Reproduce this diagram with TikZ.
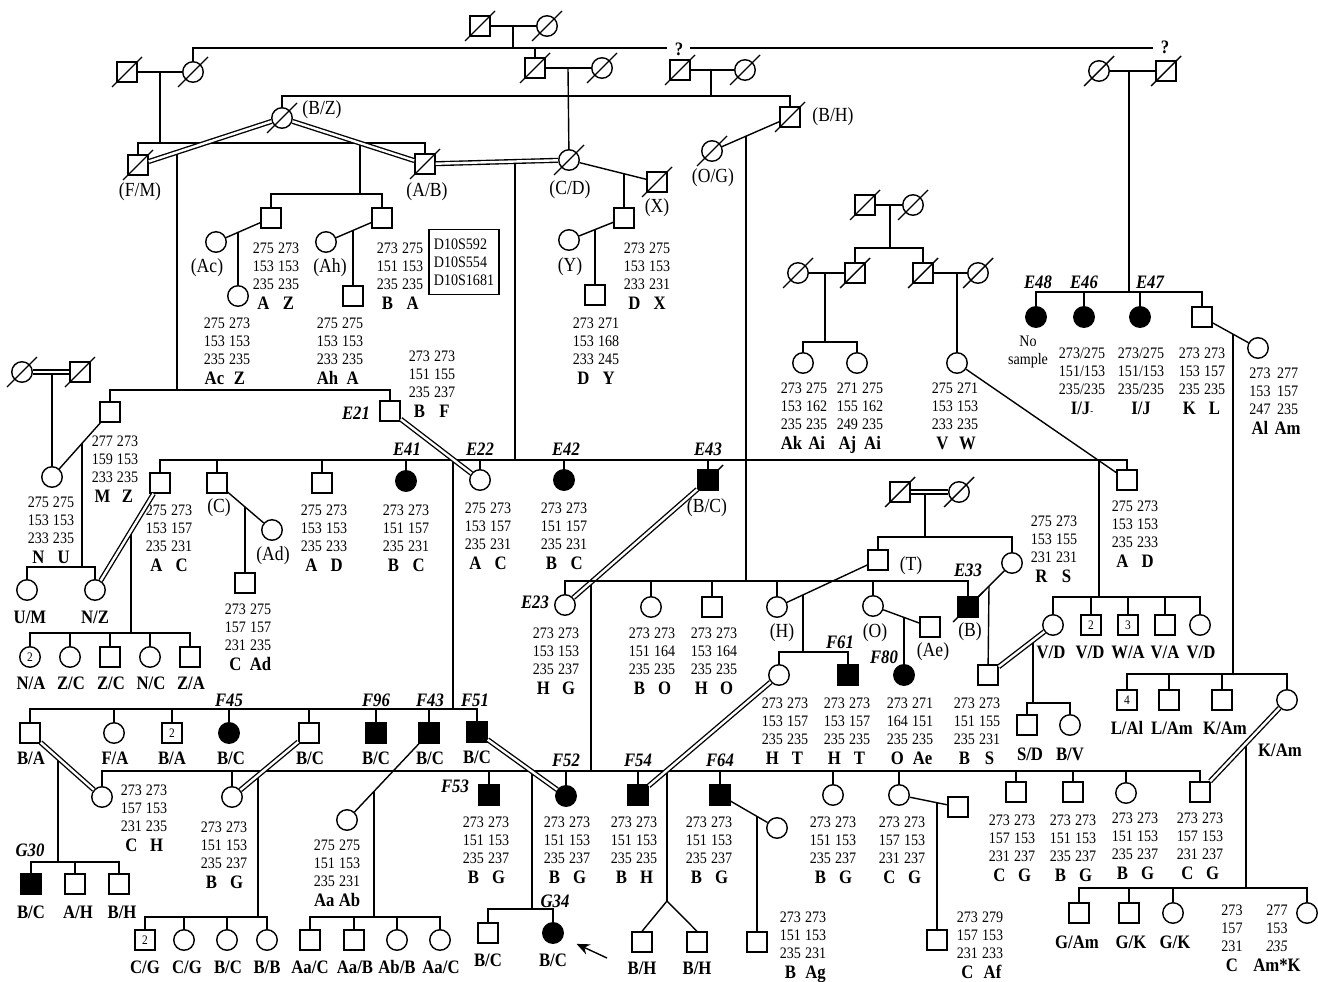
\documentclass[tikz,border=0pt]{standalone}
\usepackage{fontspec}
\setmainfont{Liberation Serif}[FakeStretch=0.88]
\usetikzlibrary{arrows.meta}

\newcommand{\gtsize}{\fontsize{16}{18}\selectfont}
\newcommand{\lbsize}{\fontsize{19}{20}\selectfont\bfseries}
\newcommand{\geno}[8]{\begin{tabular}[t]{@{}c@{\hspace{4pt}}c@{}}#1&#2\\#3&#4\\#5&#6\\[2pt]\lbsize #7&\lbsize #8\end{tabular}}
\newcommand{\genos}[4]{\begin{tabular}[t]{@{}c@{}}#1\\#2\\#3\\[2pt]\lbsize #4\end{tabular}}
\newcommand{\dead}[1]{\draw ([shift={(-15,15)}]#1.center) -- ([shift={(15,-15)}]#1.center);}

\begin{document}
\begin{tikzpicture}[x=1pt, y=-1pt, line width=1.4pt,
    sym/.style={draw, inner sep=0pt, font=\fontsize{13}{13}\selectfont},
    male/.style={sym, rectangle, minimum size=20pt},
    female/.style={sym, circle, minimum size=20.5pt},
    aff/.style={fill=black},
    dbl/.style={double, double distance=2.4pt, line width=1.35pt},
    gt/.style={anchor=base, yshift=-5pt, inner sep=0pt, font=\gtsize},
    tag/.style={inner sep=0pt, font=\lbsize},
    pn/.style={inner sep=0pt, font=\fontsize{20}{22}\selectfont},
    gen/.style={inner sep=0pt, font=\fontsize{19}{20}\selectfont\bfseries\itshape},
    qs/.style={inner sep=0pt, font=\fontsize{19}{20}\selectfont\bfseries}]
\useasboundingbox (0,0) rectangle (1318,982);

% founders
\node[male] (gpm) at (480,26) {}; \dead{gpm}
\node[female] (gpf) at (547,26) {}; \dead{gpf}
\coordinate (mGP) at (513,26);
\coordinate (sGP) at (513,48);
\draw (gpm) -- (gpf);
\draw (mGP) -- (sGP);
\coordinate (qa) at (667,48);
\coordinate (qb) at (690,48);
\coordinate (qc) at (1153,48);
\draw (sGP) -- (qa);
\draw (qb) -- (qc);
\node[qs] (q1) at (679,49) {?};
\node[qs] (q2) at (1165,47) {?};

\node[male] (lm) at (127,72) {}; \dead{lm}
\node[female] (lw) at (193,72) {}; \dead{lw}
\coordinate (mL) at (160,72);
\coordinate (sL) at (160,143);
\draw (lm) -- (lw);
\draw (mL) -- (sL);
\draw (lw) |- (sGP);

\node[male] (mm1) at (535,68) {}; \dead{mm1}
\node[female] (mw1) at (602,68) {}; \dead{mw1}
\coordinate (mM1) at (568,68);
\draw (mm1) -- (mw1);
\draw (mm1) |- (sGP);

\node[male] (mm2) at (680,70) {}; \dead{mm2}
\node[female] (mw2) at (745,70) {}; \dead{mw2}
\coordinate (mM2) at (711,70);
\coordinate (sM2) at (711,96);
\draw (mm2) -- (mw2);
\draw (mM2) -- (sM2);

\node[female] (rw) at (1099,71) {}; \dead{rw}
\node[male] (rm) at (1166,71) {}; \dead{rm}
\coordinate (mR) at (1129,71);
\coordinate (sR) at (1129,292);
\draw (rw) -- (rm);
\draw (mR) -- (sR);

% second generation
\node[male] (fm) at (138,165) {}; \dead{fm}
\node[female] (bz) at (282,118) {}; \dead{bz}
\node[male] (ab) at (425,164) {}; \dead{ab}
\node[female] (cd) at (569,160) {}; \dead{cd}
\node[male] (xx) at (657,182) {}; \dead{xx}
\node[female] (og) at (712,151) {}; \dead{og}
\node[male] (bh) at (790,117) {}; \dead{bh}
\node[pn] (fmL) at (140,192) {(F/M)};
\node[pn] (bzL) at (322,110) {(B/Z)};
\node[pn] (abL) at (427,192) {(A/B)};
\node[pn] (cdL) at (570,190) {(C/D)};
\node[pn] (xxL) at (657,208) {(X)};
\node[pn] (ogL) at (713,178) {(O/G)};
\node[pn] (bhL) at (833,117) {(B/H)};
\draw (fm) |- (sL);
\draw (ab) |- (sL);
\draw (bz) |- (sM2);
\draw (bh) |- (sM2);
\draw (mM1) -- (cd);
\coordinate (mFB) at (177,152);
\coordinate (s390) at (177,390);
\coordinate (mBA) at (360,143);
\coordinate (s194) at (360,194);
\coordinate (mAC) at (515,163);
\coordinate (s460) at (515,460);
\coordinate (mCX) at (624,174);
\coordinate (mOB) at (746,136);
\coordinate (s581) at (746,581);
\draw (mFB) -- (s390);
\draw (mBA) -- (s194);
\draw (mAC) -- (s460);
\draw (mOB) -- (s581);
\draw[dbl] (fm) -- (bz);
\draw[dbl] (bz) -- (ab);
\draw[dbl] (ab) -- (cd);
\draw (cd) -- (xx);
\draw (og) -- (bh);

\node[male] (s1) at (271,218) {};
\node[male] (s2) at (382,218) {};
\draw (s1) |- (s194);
\draw (s2) |- (s194);
\node[female] (acw) at (216,242) {};
\node[pn] (acL) at (207,268) {(Ac)};
\coordinate (mAc) at (238,232);
\node[female] (c1) at (238,296) {};
\draw (acw) -- (s1);
\draw (mAc) -- (c1);
\node[gt] (g1) at (276,248) {\geno{275}{273}{153}{153}{235}{235}{A}{Z}};
\node[gt] (g2) at (227,323) {\geno{275}{273}{153}{153}{235}{235}{Ac}{Z}};
\node[female] (ahw) at (326,242) {};
\node[pn] (ahL) at (330,268) {(Ah)};
\coordinate (mAh) at (353,230);
\node[male] (c2) at (353,296) {};
\draw (ahw) -- (s2);
\draw (mAh) -- (c2);
\node[gt] (g3) at (400,248) {\geno{273}{275}{151}{153}{235}{235}{B}{A}};
\node[gt] (g4) at (340,323) {\geno{275}{275}{153}{153}{233}{235}{Ah}{A}};
\node[draw, line width=1.1pt, inner sep=0pt, minimum width=70pt, minimum height=65pt, align=left, font=\gtsize] (mk) at (464,262) {D10S592\\D10S554\\D10S1681};

\node[male] (y1) at (624,218) {};
\node[female] (yw) at (569,240) {};
\node[pn] (ywL) at (570,267) {(Y)};
\coordinate (mY) at (595,230);
\node[male] (y2) at (595,295) {};
\draw (mCX) -- (y1);
\draw (yw) -- (y1);
\draw (mY) -- (y2);
\node[gt] (g5) at (647,248) {\geno{273}{275}{153}{153}{233}{231}{D}{X}};
\node[gt] (g6) at (596,323) {\geno{273}{271}{153}{168}{233}{245}{D}{Y}};

\node[male] (um) at (865,205) {}; \dead{um}
\node[female] (uw) at (913,205) {}; \dead{uw}
\coordinate (mU) at (890,205);
\coordinate (s248) at (890,248);
\draw (um) -- (uw);
\draw (mU) -- (s248);
\node[male] (ua) at (855,273) {}; \dead{ua}
\node[male] (ub) at (923,273) {}; \dead{ub}
\draw (ua) |- (s248);
\draw (ub) |- (s248);
\node[female] (uaw) at (798,273) {}; \dead{uaw}
\coordinate (mUa) at (825,273);
\coordinate (s342) at (825,342);
\draw (uaw) -- (ua);
\draw (mUa) -- (s342);
\node[female] (ak) at (803,363) {};
\node[female] (aj) at (857,363) {};
\draw (ak) |- (s342);
\draw (aj) |- (s342);
\node[female] (ubw) at (978,273) {}; \dead{ubw}
\coordinate (mUb) at (957,273);
\node[female] (vw) at (957,363) {};
\draw (ub) -- (ubw);
\draw (mUb) -- (vw);
\node[gt] (g7) at (804,388) {\geno{273}{275}{153}{162}{235}{235}{Ak}{Ai}};
\node[gt] (g8) at (860,388) {\geno{271}{275}{155}{162}{249}{235}{Aj}{Ai}};
\node[gt] (g9) at (955,388) {\geno{275}{271}{153}{153}{233}{235}{V}{W}};

\node[female,aff] (e48) at (1036,317) {};
\node[female,aff] (e46) at (1084,317) {};
\node[female,aff] (e47) at (1140,317) {};
\node[male] (kl) at (1202,317) {};
\foreach \n in {e48,e46,e47,kl} \draw (\n) |- (sR);
\node[gen] (e48L) at (1038,282) {E48};
\node[gen] (e46L) at (1084,282) {E46};
\node[gen] (e47L) at (1150,282) {E47};
\node[female] (alw) at (1258,348) {};
\coordinate (mKL) at (1233,334);
\coordinate (s674) at (1233,674);
\draw (kl) -- (alw);
\draw (mKL) -- (s674);
\node[inner sep=0pt, align=center, font=\gtsize] (nos) at (1028,352) {No\\sample};
\node[gt] (g10) at (1082,353) {\genos{273/275}{151/153}{235/235}{I/J{\mdseries\fontsize{10}{10}\selectfont-}}};
\node[gt] (g11) at (1141,353) {\genos{273/275}{151/153}{235/235}{I/J}};
\node[gt] (g12) at (1202,353) {\geno{273}{273}{153}{157}{235}{235}{K}{L}};
\node[gt] (g13) at (1275,373) {\geno{273}{277}{153}{157}{247}{235}{Al}{Am}};

% third generation
\node[male] (mz) at (110,412) {};
\node[male] (e21) at (390,411) {};
\draw (mz) |- (s390);
\draw (e21) |- (s390);
\node[gen] (e21L) at (356,413) {E21};
\node[gt] (g14) at (115,441) {\geno{277}{273}{159}{153}{233}{235}{M}{Z}};
\node[gt] (g15) at (432,356) {\geno{273}{273}{151}{155}{235}{237}{B}{F}};

\node[female] (lcw) at (22,372) {}; \dead{lcw}
\node[male] (lcm) at (80,372) {}; \dead{lcm}
\coordinate (mLC) at (52,372);
\node[female] (nu) at (52,477) {};
\draw (mLC) -- (nu);
\draw[dbl] (lcw) -- (lcm);
\node[gt] (g16) at (51,502) {\geno{275}{275}{153}{153}{233}{235}{N}{U}};
\coordinate (mNU) at (82,443);
\coordinate (s567) at (82,567);
\draw (nu) -- (mz);
\draw (mNU) -- (s567);
\node[female] (umc) at (27,590) {};
\node[female] (nz) at (95,590) {};
\draw (umc) |- (s567);
\draw (nz) |- (s567);
\node[tag] (umL) at (30,617) {U/M};
\node[tag] (nzL) at (95,617) {N/Z};

\node[male] (acm) at (160,483) {};
\node[male] (cm) at (217,483) {};
\node[male] (adm) at (322,483) {};
\node[female,aff] (e41) at (406,481) {};
\node[female] (e22) at (480,480) {};
\node[female,aff] (e42) at (564,480) {};
\node[male,aff] (e43) at (708,480) {}; \dead{e43}
\node[male] (adr) at (1127,480) {};
\foreach \n in {acm,cm,adm,e41,e22,e42,e43,adr} \draw (\n) |- (s460);
\node[gen] (e41L) at (407,449) {E41};
\node[gen] (e22L) at (480,449) {E22};
\node[gen] (e42L) at (566,449) {E42};
\node[gen] (e43L) at (708,449) {E43};
\node[pn] (cmL) at (219,508) {(C)};
\node[pn] (e43P) at (707,508) {(B/C)};
\node[gt] (g17) at (169,510) {\geno{275}{273}{153}{157}{235}{231}{A}{C}};
\node[gt] (g18) at (324,510) {\geno{275}{273}{153}{153}{235}{233}{A}{D}};
\node[gt] (g19) at (406,510) {\geno{273}{273}{151}{157}{235}{231}{B}{C}};
\node[gt] (g20) at (488,508) {\geno{275}{273}{153}{157}{235}{231}{A}{C}};
\node[gt] (g21) at (564,508) {\geno{273}{273}{151}{157}{235}{231}{B}{C}};
\node[gt] (g22) at (1135,506) {\geno{275}{273}{153}{153}{235}{233}{A}{D}};

\node[female] (adw) at (272,530) {};
\node[pn] (adL) at (273,556) {(Ad)};
\coordinate (mCA) at (245,507);
\node[male] (cad) at (245,583) {};
\draw (cm) -- (adw);
\draw (mCA) -- (cad);
\node[gt] (g23) at (248,609) {\geno{273}{275}{157}{157}{231}{235}{C}{Ad}};

\coordinate (mNA) at (131,531);
\coordinate (s633) at (131,633);
\draw (mNA) -- (s633);
\draw[dbl] (nz) -- (acm);
\node[female] (na) at (30,657) {2};
\node[female] (zc1) at (70,657) {};
\node[male] (zc2) at (110,657) {};
\node[female] (nc) at (150,657) {};
\node[male] (za) at (190,657) {};
\foreach \n in {na,zc1,zc2,nc,za} \draw (\n) |- (s633);
\node[tag] (naL) at (31,683) {N/A};
\node[tag] (zc1L) at (71,683) {Z/C};
\node[tag] (zc2L) at (111,683) {Z/C};
\node[tag] (ncL) at (151,683) {N/C};
\node[tag] (zaL) at (191,683) {Z/A};

\coordinate (mEE) at (453,459);
\coordinate (s709) at (453,709);
\draw (mEE) -- (s709);
\draw[dbl] (e21) -- (e22);

\node[female] (e23) at (565,605) {};
\coordinate (mE2) at (591,582);
\coordinate (s771) at (591,771);
\draw (mE2) -- (s771);
\draw[dbl] (e23) -- (e43);
\node[gen] (e23L) at (535,602) {E23};

% fourth generation, E23 line
\node[female] (bo) at (651,607) {};
\node[male] (ho) at (712,607) {};
\node[female] (hc) at (777,607) {};
\node[female] (oc) at (873,606) {};
\node[male,aff] (e33) at (968,607) {}; \dead{e33}
\foreach \n in {e23,bo,ho,hc,oc,e33} \draw (\n) |- (s581);
\node[pn] (hcL) at (782,633) {(H)};
\node[pn] (ocL) at (875,633) {(O)};
\node[pn] (e33P) at (970,632) {(B)};
\node[gen] (e33L) at (968,570) {E33};
\node[gt] (g24) at (556,633) {\geno{273}{273}{153}{153}{235}{237}{H}{G}};
\node[gt] (g25) at (652,633) {\geno{273}{273}{151}{164}{235}{235}{B}{O}};
\node[gt] (g26) at (714,633) {\geno{273}{273}{153}{164}{235}{235}{H}{O}};

\node[male] (tm) at (900,492) {}; \dead{tm}
\node[female] (tw) at (959,492) {}; \dead{tw}
\coordinate (mT) at (925,492);
\coordinate (s537) at (925,537);
\draw (mT) -- (s537);
\draw[dbl] (tm) -- (tw);
\node[male] (tsq) at (878,560) {};
\node[female] (rsw) at (1012,563) {};
\draw (tsq) |- (s537);
\draw (rsw) |- (s537);
\node[pn] (tL) at (911,566) {(T)};
\node[gt] (g27) at (1054,521) {\geno{275}{273}{153}{155}{231}{231}{R}{S}};

\coordinate (mTH) at (803,595);
\coordinate (s652) at (803,652);
\draw (tsq) -- (hc);
\draw (mTH) -- (s652);
\node[female] (htc) at (779,675) {};
\node[male,aff] (f61) at (848,675) {};
\draw (htc) |- (s652);
\draw (f61) |- (s652);
\node[gen] (f61L) at (840,642) {F61};
\node[gt] (g28) at (785,703) {\geno{273}{273}{153}{157}{235}{235}{H}{T}};
\node[gt] (g29) at (847,703) {\geno{273}{273}{153}{157}{235}{235}{H}{T}};

\node[male] (ae) at (930,627) {};
\node[pn] (aeL) at (933,652) {(Ae)};
\coordinate (mOA) at (904,617);
\node[female,aff] (f80) at (904,675) {};
\draw (oc) -- (ae);
\draw (mOA) -- (f80);
\node[gen] (f80L) at (884,657) {F80};
\node[gt] (g30) at (910,703) {\geno{273}{271}{164}{151}{235}{235}{O}{Ae}};

\coordinate (mER) at (989,586);
\node[male] (bsq) at (988,675) {};
\draw (e33) -- (rsw);
\draw (mER) -- (bsq);
\node[gt] (g31) at (977,703) {\geno{273}{273}{151}{155}{235}{231}{B}{S}};

\coordinate (mVA) at (1099,461);
\coordinate (s597) at (1099,597);
\draw (vw) -- (adr);
\draw (mVA) -- (s597);
\node[female] (vd) at (1053,625) {};
\node[male] (vd2) at (1091,625) {2};
\node[male] (wa) at (1128,625) {3};
\node[male] (va) at (1165,625) {};
\node[female] (vd3) at (1200,625) {};
\foreach \n in {vd,vd2,wa,va,vd3} \draw (\n) |- (s597);
\node[tag] (vdL) at (1051,652) {V/D};
\node[tag] (vd2L) at (1090,652) {V/D};
\node[tag] (waL) at (1128,652) {W/A};
\node[tag] (vaL) at (1165,652) {V/A};
\node[tag] (vd3L) at (1201,652) {V/D};

\coordinate (mBV) at (1033,640);
\coordinate (s703) at (1033,703);
\draw (mBV) -- (s703);
\draw[dbl] (bsq) -- (vd);
\node[male] (sd) at (1027,725) {};
\node[female] (bv) at (1070,725) {};
\draw (sd) |- (s703);
\draw (bv) |- (s703);
\node[tag] (sdL) at (1030,754) {S/D};
\node[tag] (bvL) at (1070,754) {B/V};

\node[male] (la) at (1127,700) {4};
\node[male] (lam) at (1169,700) {};
\node[male] (kam1) at (1222,700) {};
\node[female] (kam) at (1287,700) {};
\foreach \n in {la,lam,kam1,kam} \draw (\n) |- (s674);
\node[tag] (laL) at (1127,728) {L/Al};
\node[tag] (lamL) at (1172,728) {L/Am};
\node[tag] (kam1L) at (1225,728) {K/Am};
\node[tag] (kamL) at (1280,750) {K/Am};

% F45 line
\node[male] (ba1) at (30,733) {};
\node[female] (fa) at (114,733) {};
\node[male] (ba2) at (172,733) {2};
\node[female,aff] (f45) at (229,733) {};
\node[male] (bc1) at (309,733) {};
\node[male,aff] (f96) at (376,733) {};
\node[male,aff] (f43) at (429,733) {};
\node[male,aff] (f51) at (477,732) {};
\foreach \n in {ba1,fa,ba2,f45,bc1,f96,f43,f51} \draw (\n) |- (s709);
\node[tag] (ba1L) at (31,758) {B/A};
\node[tag] (faL) at (115,758) {F/A};
\node[tag] (ba2L) at (172,758) {B/A};
\node[tag] (f45T) at (231,758) {B/C};
\node[tag] (bc1L) at (310,758) {B/C};
\node[tag] (f96T) at (376,758) {B/C};
\node[tag] (f43T) at (430,758) {B/C};
\node[tag] (f51T) at (477,757) {B/C};
\node[gen] (f45L) at (229,700) {F45};
\node[gen] (f96L) at (376,700) {F96};
\node[gen] (f43L) at (430,700) {F43};
\node[gen] (f51L) at (475,700) {F51};

% E23 x E43 line
\node[female] (chw) at (102,797) {};
\node[female] (bgw) at (232,797) {};
\node[male,aff] (f53) at (489,795) {};
\node[female,aff] (f52) at (566,796) {};
\node[male,aff] (f54) at (638,795) {};
\node[male,aff] (f64) at (720,795) {};
\node[female] (bg1) at (833,795) {};
\node[female] (cg1) at (899,795) {};
\node[male] (cg2) at (1016,792) {};
\node[male] (bg2) at (1073,792) {};
\node[female] (bg3) at (1126,793) {};
\node[male] (cg3) at (1200,792) {};
\foreach \n in {chw,bgw,f53,f52,f54,f64,bg1,cg1,cg2,bg2,bg3,cg3} \draw (\n) |- (s771);
\node[gen] (f53L) at (455,786) {F53};
\node[gen] (f52L) at (566,760) {F52};
\node[gen] (f54L) at (638,760) {F54};
\node[gen] (f64L) at (720,760) {F64};
\node[gt] (g32) at (144,790) {\geno{273}{273}{157}{153}{231}{235}{C}{H}};
\node[gt] (g33) at (224,827) {\geno{273}{273}{151}{153}{235}{237}{B}{G}};
\node[gt] (g34) at (486,822) {\geno{273}{273}{151}{153}{235}{237}{B}{G}};
\node[gt] (g35) at (567,822) {\geno{273}{273}{151}{153}{235}{237}{B}{G}};
\node[gt] (g36) at (634,822) {\geno{273}{273}{151}{153}{235}{235}{B}{H}};
\node[gt] (g37) at (709,822) {\geno{273}{273}{151}{153}{235}{237}{B}{G}};
\node[gt] (g38) at (833,822) {\geno{273}{273}{151}{153}{235}{237}{B}{G}};
\node[gt] (g39) at (902,822) {\geno{273}{273}{157}{153}{231}{237}{C}{G}};
\node[gt] (g40) at (1012,820) {\geno{273}{273}{157}{153}{231}{237}{C}{G}};
\node[gt] (g41) at (1073,820) {\geno{273}{273}{151}{153}{235}{237}{B}{G}};
\node[gt] (g42) at (1135,818) {\geno{273}{273}{151}{153}{235}{237}{B}{G}};
\node[gt] (g43) at (1200,818) {\geno{273}{273}{157}{153}{231}{237}{C}{G}};

\coordinate (mBC) at (58,758);
\coordinate (s862) at (58,862);
\draw (mBC) -- (s862);
\draw[dbl] (ba1) -- (chw);
\node[male,aff] (g30p) at (31,884) {};
\node[male] (ah) at (75,884) {};
\node[male] (bhm) at (119,884) {};
\foreach \n in {g30p,ah,bhm} \draw (\n) |- (s862);
\node[gen] (g30L) at (30,850) {G30};
\node[tag] (g30T) at (31,912) {B/C};
\node[tag] (ahL) at (78,912) {A/H};
\node[tag] (bhmL) at (122,912) {B/H};

\coordinate (mBG) at (258,775);
\coordinate (s917a) at (258,917);
\draw (mBG) -- (s917a);
\draw[dbl] (bc1) -- (bgw);
\node[male] (cgA) at (145,940) {2};
\node[female] (cgB) at (184,940) {};
\node[female] (bcA) at (227,940) {};
\node[female] (bbA) at (267,940) {};
\foreach \n in {cgA,cgB,bcA,bbA} \draw (\n) |- (s917a);
\node[tag] (cgAL) at (145,967) {C/G};
\node[tag] (cgBL) at (187,967) {C/G};
\node[tag] (bcAL) at (228,967) {B/C};
\node[tag] (bbAL) at (267,967) {B/B};

\node[female] (aaw) at (347,820) {};
\node[gt] (g44) at (337,845) {\geno{275}{275}{151}{153}{235}{231}{Aa}{Ab}};
\coordinate (mFA) at (374,791);
\coordinate (s917b) at (374,917);
\draw (f43) -- (aaw);
\draw (mFA) -- (s917b);
\node[male] (aac1) at (310,940) {};
\node[male] (aab) at (354,940) {};
\node[female] (abb) at (397,940) {};
\node[female] (aac2) at (440,940) {};
\foreach \n in {aac1,aab,abb,aac2} \draw (\n) |- (s917b);
\node[tag] (aac1L) at (310,967) {Aa/C};
\node[tag] (aabL) at (355,967) {Aa/B};
\node[tag] (abbL) at (397,967) {Ab/B};
\node[tag] (aac2L) at (441,967) {Aa/C};

\coordinate (mFF) at (532,772);
\coordinate (s909) at (532,909);
\draw (mFF) -- (s909);
\draw[dbl] (f51) -- (f52);
\node[male] (bcB) at (488,933) {};
\node[female,aff] (g34p) at (553,933) {};
\draw (bcB) |- (s909);
\draw (g34p) |- (s909);
\node[gen] (g34L) at (555,901) {G34};
\node[tag] (bcBL) at (488,960) {B/C};
\node[tag] (g34T) at (553,960) {B/C};
\coordinate (arT) at (607,958);
\draw[-{Stealth[length=13pt,width=11pt]}, shorten >=15pt] (arT) -- (g34p);

\coordinate (mFH) at (667,772);
\coordinate (tw0) at (667,901);
\draw (mFH) -- (tw0);
\draw[dbl] (f54) -- (htc);
\node[male] (bhA) at (642,942) {};
\node[male] (bhB) at (697,942) {};
\draw (tw0) -- (bhA.north);
\draw (tw0) -- (bhB.north);
\node[tag] (bhAL) at (642,968) {B/H};
\node[tag] (bhBL) at (697,968) {B/H};

\node[female] (agw) at (777,828) {};
\coordinate (mFG) at (757,816);
\node[male] (bag) at (757,942) {};
\draw (f64) -- (agw);
\draw (mFG) -- (bag);
\node[gt] (g45) at (803,917) {\geno{273}{273}{151}{153}{235}{231}{B}{Ag}};

\node[male] (afm) at (958,807) {};
\coordinate (mCF) at (937,803);
\node[male] (caf) at (937,940) {};
\draw (cg1) -- (afm);
\draw (mCF) -- (caf);
\node[gt] (g46) at (980,917) {\geno{273}{279}{157}{153}{231}{233}{C}{Af}};

\coordinate (mCK) at (1246,743);
\coordinate (s888) at (1246,888);
\draw (mCK) -- (s888);
\draw[dbl] (cg3) -- (kam);
\node[male] (gam) at (1079,913) {};
\node[male] (gk1) at (1129,913) {};
\node[female] (gk2) at (1173,913) {};
\node[female] (amk) at (1307,913) {};
\foreach \n in {gam,gk1,gk2,amk} \draw (\n) |- (s888);
\node[tag] (gamL) at (1077,942) {G/Am};
\node[tag] (gk1L) at (1131,942) {G/K};
\node[tag] (gk2L) at (1175,942) {G/K};
\node[gt] (g47) at (1232,910) {\genos{273}{157}{231}{C}};
\node[gt] (g48) at (1277,910) {\genos{277}{153}{\itshape 235}{Am*K}};
\end{tikzpicture}
\end{document}
